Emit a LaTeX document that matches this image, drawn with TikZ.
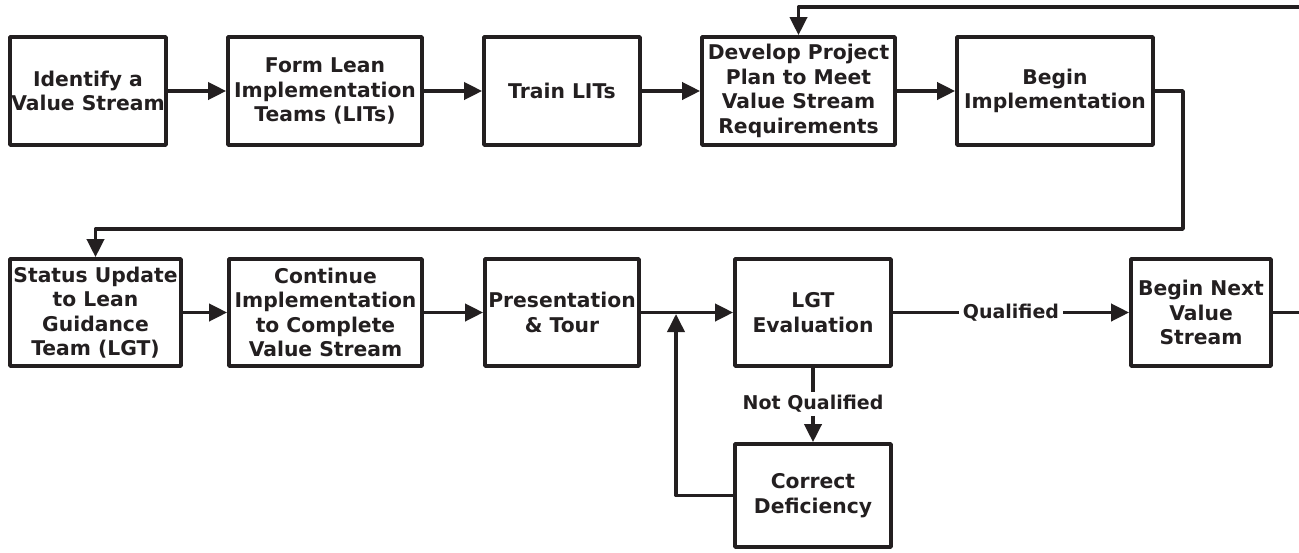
\documentclass[tikz,border=0pt]{standalone}
\usepackage{fontspec}
\setmainfont{DejaVu Sans}
\usetikzlibrary{arrows.meta}
\definecolor{ink}{RGB}{35,31,32}
\begin{document}
\begin{tikzpicture}[x=1pt,y=-1pt,
  box/.style={draw=ink, line width=3.7pt, line join=round, inner sep=0pt, align=center, text=ink, font=\fontsize{20.3}{24.5}\selectfont\bfseries},
  conn/.style={draw=ink, line width=3.7pt, line join=round},
  arr/.style={conn, -{Triangle[length=18pt,width=17pt]}},
  lbl/.style={text=ink, font=\fontsize{19}{22}\selectfont\bfseries, inner xsep=4pt, inner ysep=3pt}]
\useasboundingbox (0,0) rectangle (1299,552);
% row 1
\node[box, minimum width=156pt, minimum height=108pt] (b1) at (88,91) {Identify a\\Value Stream};
\node[box, minimum width=194pt, minimum height=108pt] (b2) at (325,91) {Form Lean\\Implementation\\Teams (LITs)};
\node[box, minimum width=156pt, minimum height=108pt] (b3) at (562,91) {Train LITs};
\node[box, minimum width=193pt, minimum height=108pt] (b4) at (798.5,91) {Develop Project\\Plan to Meet\\Value Stream\\Requirements};
\node[box, minimum width=196pt, minimum height=108pt] (b5) at (1055,91) {Begin\\Implementation};
% row 2
\node[box, minimum width=171pt, minimum height=107pt] (b6) at (95.5,312.5) {Status Update\\to Lean\\Guidance\\Team (LGT)};
\node[box, minimum width=193pt, minimum height=107pt] (b7) at (325.5,312.5) {Continue\\Implementation\\to Complete\\Value Stream};
\node[box, minimum width=154pt, minimum height=107pt] (b8) at (562,312.5) {Presentation\\\& Tour};
\node[box, minimum width=156pt, minimum height=107pt] (b9) at (813,312.5) {LGT\\Evaluation};
\node[box, minimum width=140pt, minimum height=107pt] (b10) at (1201,312.5) {Begin Next\\Value\\Stream};
\node[box, minimum width=156pt, minimum height=103pt] (b11) at (813,495.5) {Correct\\Deficiency};
% labels
\node[lbl] (q) at (1011,312.5) {Qualified};
\node[lbl] (nq) at (813,404) {Not Qualified};
% helper coordinates
\coordinate (tr) at (1302,7);
\coordinate (r1) at (1183,229);
\coordinate (l1) at (95.5,229);
\coordinate (j) at (676,314);
\coordinate (er) at (1302,312.5);
% connectors
\draw[arr] (b1) -- (b2);
\draw[arr] (b2) -- (b3);
\draw[arr] (b3) -- (b4);
\draw[arr] (b4) -- (b5);
\draw[arr] (tr) -| (b4.north);
\draw[arr] (b5.east) -| (r1) -- (l1) -- (b6.north);
\draw[arr] (b6) -- (b7);
\draw[arr] (b7) -- (b8);
\draw[arr] (b8) -- (b9);
\draw[arr] (b11.west) -| (j);
\draw[conn] (b9) -- (q);
\draw[arr] (q) -- (b10);
\draw[conn] (b10.east) -- (er);
\draw[conn] (b9) -- (nq);
\draw[arr] (nq) -- (b11);
\end{tikzpicture}
\end{document}
